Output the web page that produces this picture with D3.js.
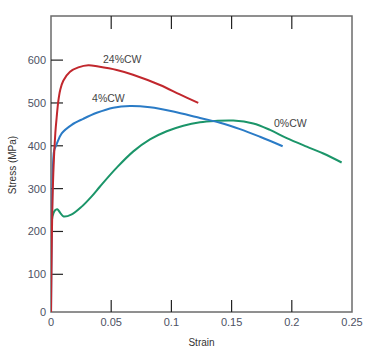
<!DOCTYPE html>
<html><head><meta charset="utf-8">
<script src="https://cdn.jsdelivr.net/npm/d3@7/dist/d3.min.js"></script>
<style>
html,body{margin:0;padding:0;background:#fff;}
text{font-family:"Liberation Sans",Arial,sans-serif;}
</style></head>
<body><svg id="c" width="373" height="357"></svg>
<script>
const xTicks = [0, 0.05, 0.1, 0.15, 0.2, 0.25];
const xTickLabels = ["0", "0.05", "0.1", "0.15", "0.2", "0.25"];
const yTicks = [100, 200, 300, 400, 500, 600];
const yTickLabels = ["100", "200", "300", "400", "500", "600"];

const seriesNames = ["24%CW", "4%CW", "0%CW"];
const cw24 = [[0,0],[0.0015,300],[0.0036,430],[0.0047,466],[0.0061,505],[0.0077,531],[0.0102,552],[0.0158,573],[0.0227,583],[0.031,588],[0.0393,585],[0.0546,577],[0.0681,566],[0.0905,542],[0.107,520],[0.1223,500]];
const cw4 = [[0,0],[0.0019,370],[0.0027,390],[0.0047,404],[0.0089,429],[0.0172,449],[0.0268,463],[0.038,477],[0.0517,489],[0.0656,493],[0.0822,490],[0.1016,480],[0.1238,465],[0.1404,454],[0.157,439],[0.1736,421],[0.1924,399]];
const cw0 = [[0,0],[0.0012,235],[0.0032,249],[0.0052,252],[0.0078,243],[0.0105,235],[0.0172,240],[0.0255,258],[0.0338,282],[0.0407,305],[0.0546,349],[0.0684,387],[0.0822,415],[0.0961,434],[0.1099,447],[0.1238,455],[0.1362,458],[0.1514,459],[0.168,452],[0.1819,437],[0.1958,418],[0.2124,398],[0.2262,382],[0.2414,361]];
const seriesColors = ["#c1272d", "#2a7bc6", "#1b9569"];
const labelPos = [[0.0432,594],[0.0341,502],[0.1852,444]];

const svg = d3.select("#c");
const L = 51, R = 352, T = 16, B = 312;
const x = d3.scaleLinear().domain([0, 0.25]).range([L, R]);
const y = d3.scaleLinear().domain([12, 703]).range([B, T]);
const txtCol = "#4d5163";

svg.append("defs").append("clipPath").attr("id","clip")
  .append("rect").attr("x",L).attr("y",T).attr("width",R-L).attr("height",B-T);

// frame
svg.append("rect").attr("x",L).attr("y",T).attr("width",R-L).attr("height",B-T)
  .attr("fill","none").attr("stroke","#6b6b6b").attr("stroke-width",1.5);

// x ticks (inward, top and bottom)
const inner = xTicks.filter(d => d > 0 && d < 0.25);
svg.selectAll(".xtb").data(inner).enter().append("line")
  .attr("x1",d=>x(d)).attr("x2",d=>x(d)).attr("y1",B).attr("y2",B-12)
  .attr("stroke","#222").attr("stroke-width",1.2);
svg.selectAll(".xtt").data(inner).enter().append("line")
  .attr("x1",d=>x(d)).attr("x2",d=>x(d)).attr("y1",T).attr("y2",T+13)
  .attr("stroke","#222").attr("stroke-width",1.2);
// y ticks
svg.selectAll(".yt").data(yTicks).enter().append("line")
  .attr("x1",L).attr("x2",L+12).attr("y1",d=>y(d)).attr("y2",d=>y(d))
  .attr("stroke","#222").attr("stroke-width",1.2);

// x labels
svg.selectAll(".xl").data(xTicks).enter().append("text")
  .attr("x",d=>x(d)).attr("y",325.5).attr("text-anchor","middle")
  .attr("font-size",11).attr("fill",txtCol).text((d,i)=>xTickLabels[i]);
// y labels
svg.selectAll(".yl").data(yTicks).enter().append("text")
  .attr("x",46).attr("y",d=>y(d)+4).attr("text-anchor","end")
  .attr("font-size",11).attr("fill",txtCol).text((d,i)=>yTickLabels[i]);
svg.append("text").attr("x",46).attr("y",B+3.5).attr("text-anchor","end")
  .attr("font-size",11).attr("fill",txtCol).text("0");

// axis titles
svg.append("text").attr("x",201.5).attr("y",346).attr("text-anchor","middle")
  .attr("font-size",10).attr("fill","#333").text("Strain");
svg.append("text").attr("transform","translate(16,165) rotate(-90)")
  .attr("text-anchor","middle").attr("font-size",10).attr("fill","#333").text("Stress (MPa)");

// curves
const line = d3.line().x(d=>x(d[0])).y(d=>y(d[1])).curve(d3.curveCatmullRom.alpha(0.5));
const g = svg.append("g").attr("clip-path","url(#clip)");
[cw0, cw4, cw24].forEach((s,i)=>{
  const idx = [2,1,0][i];
  g.append("path").attr("d",line(s)).attr("fill","none")
    .attr("stroke",seriesColors[idx]).attr("stroke-width",2);
});

// labels
seriesNames.forEach((n,i)=>{
  svg.append("text").attr("x",x(labelPos[i][0])).attr("y",y(labelPos[i][1]))
    .attr("font-size",10.5).attr("fill","#444").text(n);
});
</script></body></html>
